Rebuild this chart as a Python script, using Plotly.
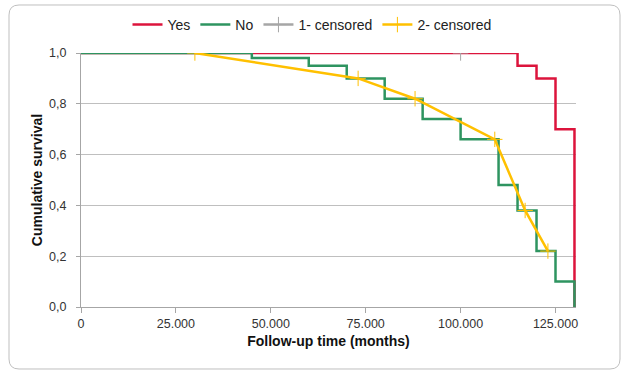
import plotly.graph_objects as go

# ---- data ----
yes_time = [0, 115000, 120000, 125000, 130000]
yes_surv = [1.0, 0.95, 0.90, 0.70, 0.0]

no_time = [0, 45000, 60000, 70000, 80000, 90000, 100000, 110000, 115000, 120000, 125000, 130000]
no_surv = [1.0, 0.98, 0.95, 0.90, 0.82, 0.74, 0.66, 0.48, 0.38, 0.22, 0.10, 0.0]

cens1_time = [100000]
cens1_surv = [1.0]

cens2_time = [30000, 73000, 88000, 109000, 117000, 123000]
cens2_surv = [1.0, 0.90, 0.82, 0.66, 0.38, 0.22]

x_tickvals = [0, 25000, 50000, 75000, 100000, 125000]
x_ticktext = ["0", "25.000", "50.000", "75.000", "100.000", "125.000"]
y_tickvals = [0.0, 0.2, 0.4, 0.6, 0.8, 1.0]
y_ticktext = ["0,0", "0,2", "0,4", "0,6", "0,8", "1,0"]

# ---- layout geometry (pixels) ----
W, H = 632, 373
L, R, T, B = 81, 576, 53, 307

def px2paper(px, py):
    return (px - L) / (R - L), (B - py) / (B - T)

def rounded_rect(x0, y0, x1, y1, r):
    def p(x, y):
        a, b = px2paper(x, y)
        return f"{a:.5f},{b:.5f}"
    return (
        f"M {p(x0 + r, y0)} L {p(x1 - r, y0)} Q {p(x1, y0)} {p(x1, y0 + r)} "
        f"L {p(x1, y1 - r)} Q {p(x1, y1)} {p(x1 - r, y1)} "
        f"L {p(x0 + r, y1)} Q {p(x0, y1)} {p(x0, y1 - r)} "
        f"L {p(x0, y0 + r)} Q {p(x0, y0)} {p(x0 + r, y0)} Z"
    )

FONT = "Liberation Sans, Arial, sans-serif"
RED = "#DC143C"
GREEN = "#2E9460"
GREY = "#A6A6A6"
YELLOW = "#FFC000"

fig = go.Figure()
fig.add_trace(go.Scatter(x=yes_time, y=yes_surv, name="Yes", mode="lines",
                         line=dict(color=RED, width=2.5, shape="hv")))
fig.add_trace(go.Scatter(x=no_time, y=no_surv, name="No", mode="lines",
                         line=dict(color=GREEN, width=2.5, shape="hv")))
fig.add_trace(go.Scatter(x=cens1_time, y=cens1_surv, name="1- censored", mode="lines+markers",
                         line=dict(color=GREY, width=2.5),
                         marker=dict(symbol="cross-thin", size=11, line=dict(color=GREY, width=1))))
fig.add_trace(go.Scatter(x=cens2_time, y=cens2_surv, name="2- censored", mode="lines+markers",
                         line=dict(color=YELLOW, width=2.5),
                         marker=dict(symbol="cross-thin", size=11, line=dict(color=YELLOW, width=1))))

fig.update_layout(
    width=W, height=H,
    margin=dict(l=L, r=W - R, t=T, b=H - B, pad=0, autoexpand=False),
    paper_bgcolor="white", plot_bgcolor="white",
    font=dict(family=FONT, size=13, color="#333333"),
    showlegend=True,
    legend=dict(orientation="h", xref="container", yref="container",
                x=312 / W, y=1 - 25 / H,
                xanchor="center", yanchor="middle",
                font=dict(family=FONT, size=14, color="#222222"),
                bgcolor="rgba(0,0,0,0)", itemwidth=30, tracegroupgap=0),
    xaxis=dict(range=[0, 130400], tickvals=x_tickvals, ticktext=x_ticktext,
               showgrid=False, zeroline=False, showline=True, linecolor="#A6A6A6", linewidth=1,
               ticks="outside", ticklen=5, tickcolor="#A6A6A6", automargin=False,
               tickfont=dict(family=FONT, size=12.5, color="#333333"),
               title=dict(text="<b>Follow-up time (months)</b>", standoff=6,
                          font=dict(family=FONT, size=14, color="#111111"))),
    yaxis=dict(range=[0, 1.0], tickvals=y_tickvals, ticktext=y_ticktext,
               showgrid=True, gridcolor="#BFBFBF", gridwidth=1, zeroline=False,
               showline=True, linecolor="#A6A6A6", linewidth=1, automargin=False,
               ticks="outside", ticklen=4, tickcolor="#A6A6A6", ticklabelstandoff=7,
               tickfont=dict(family=FONT, size=12.5, color="#333333"),
               title=dict(text="<b>Cumulative survival</b>", standoff=3,
                          font=dict(family=FONT, size=14, color="#111111"))),
    shapes=[dict(type="path", xref="paper", yref="paper",
                 path=rounded_rect(9, 5, 620, 369, 10),
                 line=dict(color="#BFBFBF", width=1), fillcolor="rgba(0,0,0,0)", layer="below")],
)

fig.write_html("out.html", config={"displayModeBar": False},
               post_script="document.body.style.margin='0';")
